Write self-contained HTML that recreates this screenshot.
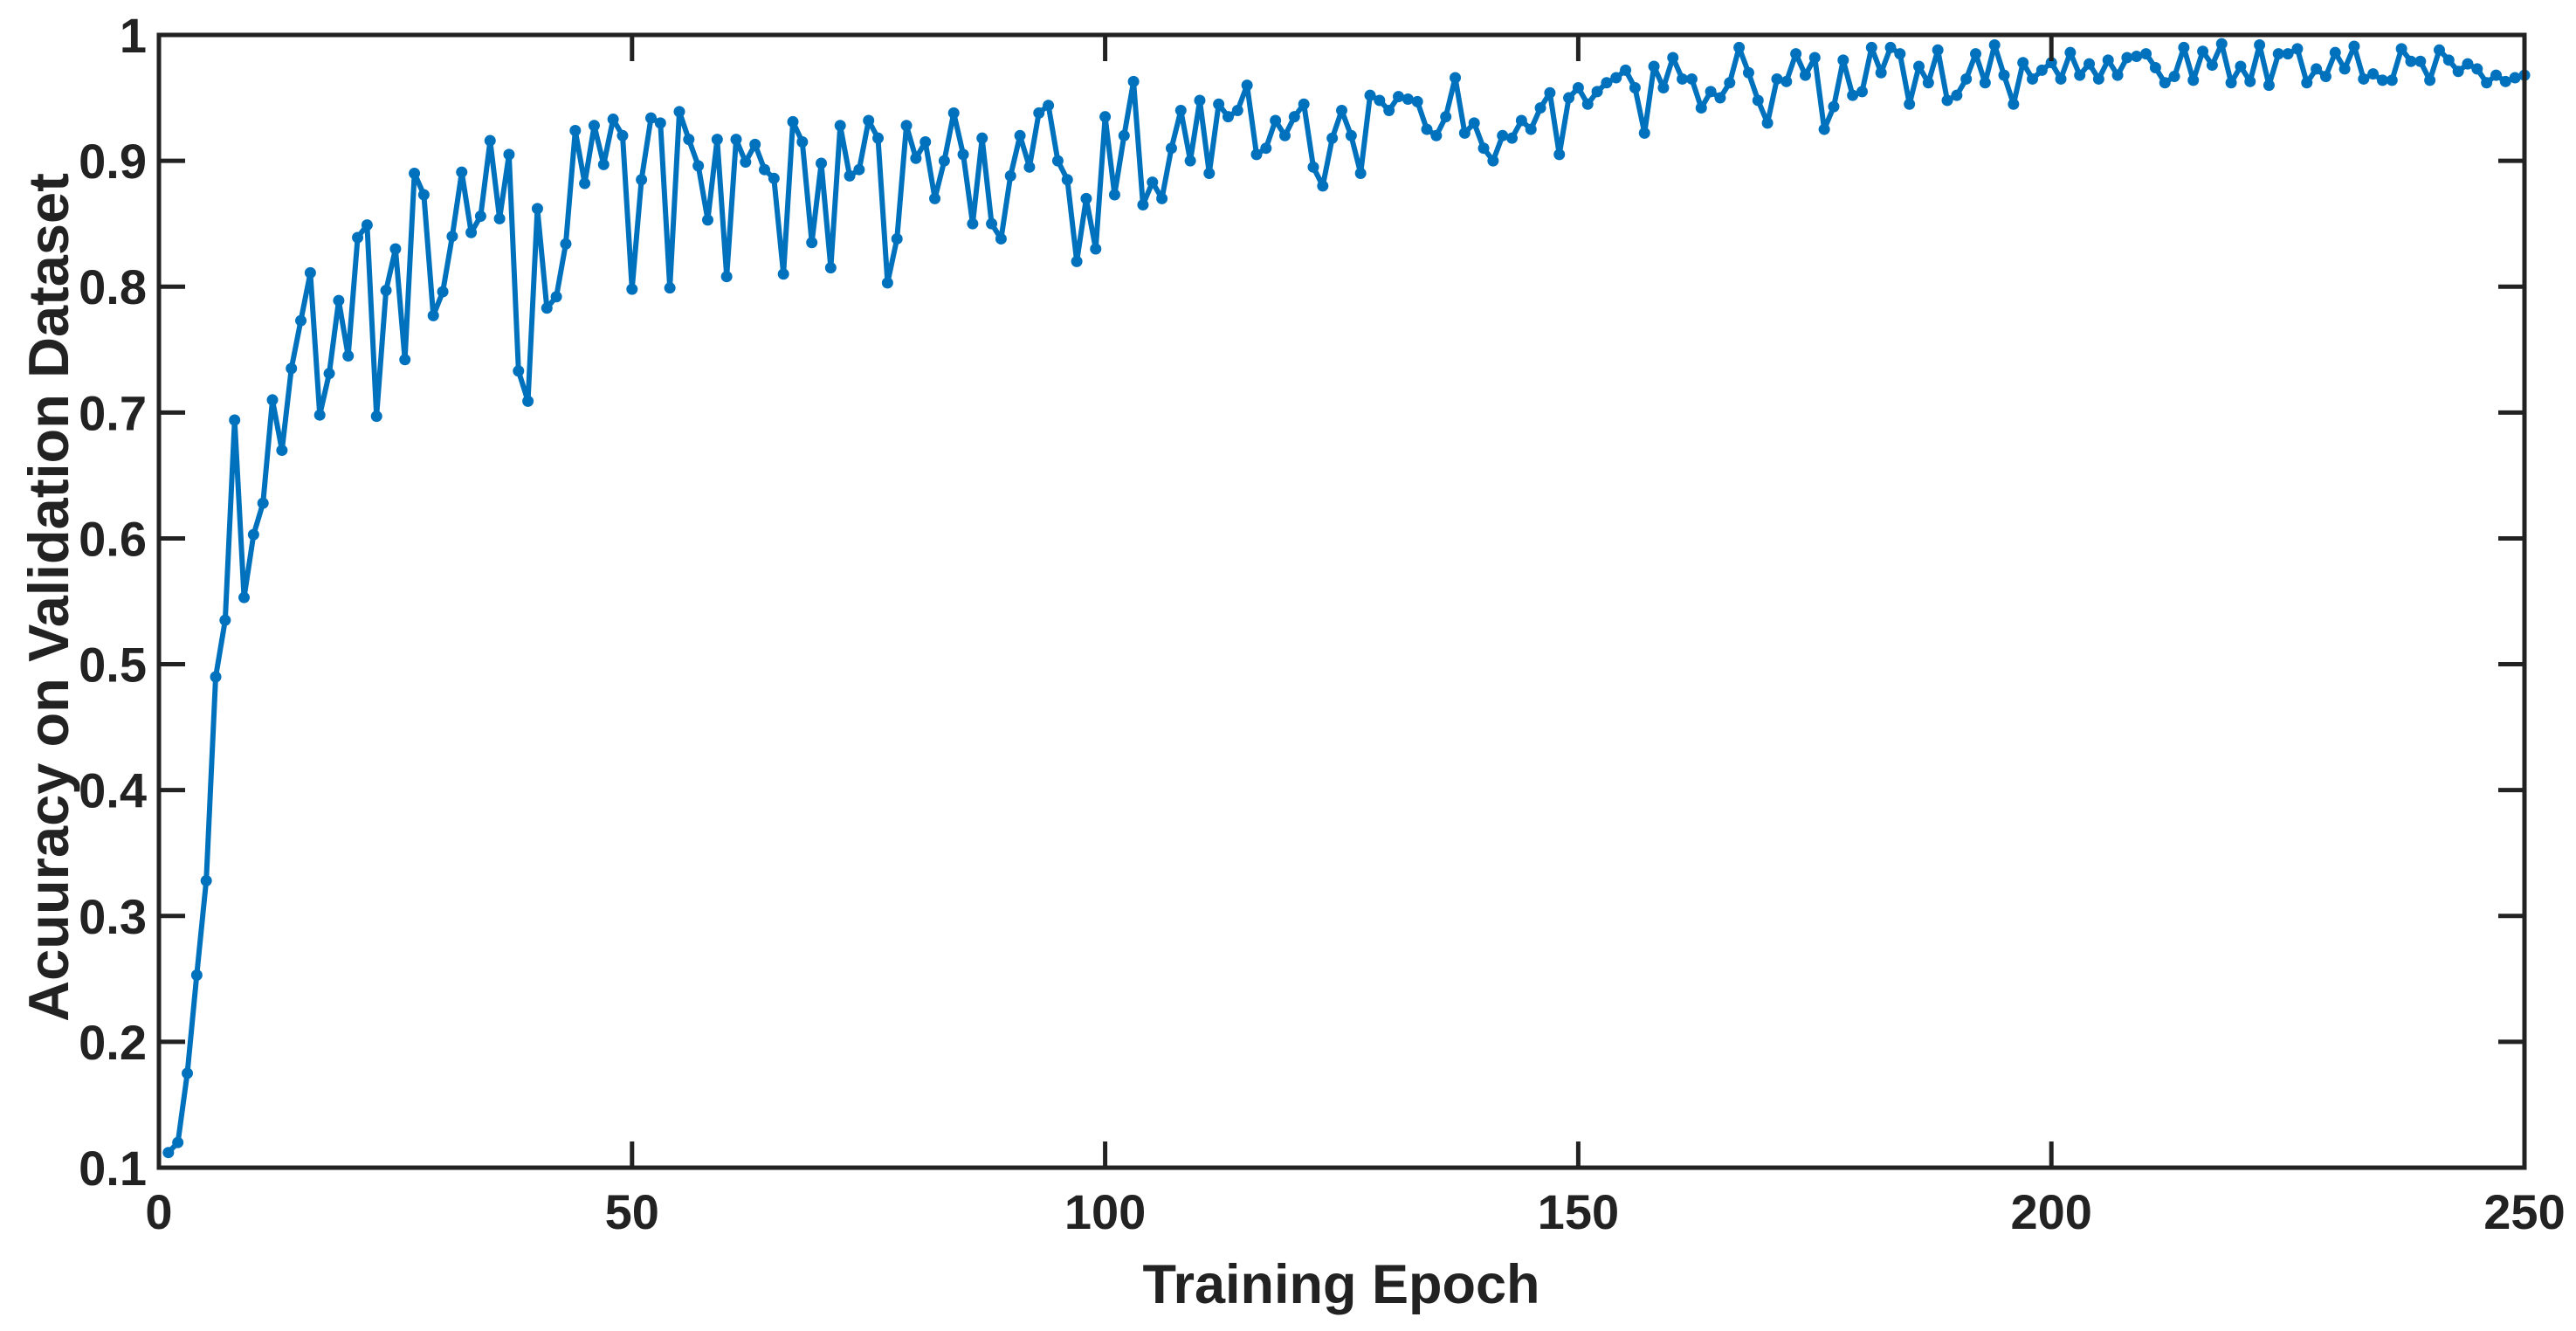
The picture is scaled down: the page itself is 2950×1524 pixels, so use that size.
<!DOCTYPE html>
<html><head><meta charset="utf-8">
<style>
html,body{margin:0;padding:0;background:#fff;}
svg{display:block;font-family:"Liberation Sans",Arial,sans-serif;font-weight:bold;}
</style></head>
<body>
<svg id="chart" width="2950" height="1524" viewBox="0 0 2950 1524" xmlns="http://www.w3.org/2000/svg">
<g id="marks"></g>
<g id="axes"></g>
<text x="1536" y="1492" font-size="63" text-anchor="middle" fill="#222">Training Epoch</text>
<text transform="translate(78,684) rotate(-90)" font-size="65" text-anchor="middle" fill="#222">Acuuracy on Validation Dataset</text>
</svg>
<script>
const accuracy = [0.112,0.12,0.175,0.253,0.328,0.49,0.535,0.694,0.553,0.603,0.628,0.71,0.67,0.735,0.773,0.811,0.698,0.731,0.789,0.745,
0.839,0.849,0.697,0.797,0.83,0.742,0.89,0.873,0.777,0.796,0.84,0.891,0.843,0.856,0.916,0.854,0.905,0.733,0.709,0.862,
0.783,0.792,0.834,0.924,0.882,0.928,0.897,0.933,0.92,0.798,0.885,0.934,0.93,0.799,0.939,0.917,0.896,0.853,0.917,0.808,
0.917,0.899,0.913,0.893,0.886,0.81,0.931,0.915,0.835,0.898,0.815,0.928,0.888,0.893,0.932,0.918,0.803,0.838,0.928,0.902,
0.915,0.87,0.9,0.938,0.905,0.85,0.918,0.85,0.838,0.888,0.92,0.895,0.938,0.944,0.9,0.885,0.82,0.87,0.83,0.935,
0.873,0.92,0.963,0.865,0.883,0.87,0.91,0.94,0.9,0.948,0.89,0.945,0.935,0.94,0.96,0.905,0.91,0.932,0.92,0.935,
0.945,0.895,0.88,0.918,0.94,0.92,0.89,0.952,0.948,0.94,0.951,0.949,0.947,0.925,0.92,0.935,0.966,0.922,0.93,0.91,
0.9,0.92,0.918,0.932,0.925,0.942,0.954,0.905,0.95,0.958,0.945,0.955,0.962,0.966,0.972,0.958,0.922,0.975,0.958,0.982,
0.965,0.965,0.942,0.955,0.95,0.962,0.99,0.97,0.948,0.93,0.965,0.963,0.985,0.968,0.982,0.925,0.943,0.98,0.952,0.955,
0.99,0.97,0.99,0.985,0.945,0.975,0.962,0.988,0.948,0.952,0.965,0.985,0.962,0.992,0.968,0.945,0.978,0.965,0.972,0.978,
0.965,0.986,0.968,0.977,0.965,0.98,0.968,0.982,0.983,0.985,0.974,0.962,0.967,0.99,0.964,0.987,0.976,0.993,0.962,0.975,
0.963,0.992,0.96,0.985,0.985,0.989,0.962,0.973,0.967,0.986,0.973,0.991,0.965,0.969,0.964,0.964,0.989,0.979,0.979,0.964,
0.988,0.98,0.971,0.977,0.973,0.962,0.968,0.963,0.966,0.968];
const xTicks = [0,50,100,150,200,250];
const yTicks = [0.1,0.2,0.3,0.4,0.5,0.6,0.7,0.8,0.9,1];
const yTickLabels = ["0.1","0.2","0.3","0.4","0.5","0.6","0.7","0.8","0.9","1"];

const NS="http://www.w3.org/2000/svg";
const L=182,R=2891,T=40,B=1337;
const xS=v=>L+(v-0)/(250-0)*(R-L);
const yS=v=>B-(v-0.1)/(1-0.1)*(B-T);
function mk(tag,attrs,parent){const e=document.createElementNS(NS,tag);for(const k in attrs)e.setAttribute(k,attrs[k]);parent.appendChild(e);return e;}
const marks=document.getElementById('marks');
const axes=document.getElementById('axes');
let d="";
accuracy.forEach((v,i)=>{d+=(i?"L":"M")+xS(i+1).toFixed(1)+","+yS(v).toFixed(1);});
const line=mk('path',{d:d,fill:'none',stroke:'#0072BD','stroke-width':6,'stroke-linejoin':'round'},marks);


accuracy.forEach((v,i)=>{
  const c=mk('circle',{cx:xS(i+1),cy:yS(v),r:6.5,fill:'#0072BD'},marks);
  
  
});
const box=mk('rect',{x:L,y:T,width:R-L,height:B-T,fill:'none',stroke:'#222','stroke-width':5},axes);


const TL=30;
xTicks.forEach(t=>{
  const x=xS(t);
  const a=mk('line',{x1:x,y1:B,x2:x,y2:B-TL,stroke:'#222','stroke-width':5},axes);
  
  
  const b=mk('line',{x1:x,y1:T,x2:x,y2:T+TL,stroke:'#222','stroke-width':5},axes);
  
  
  const tx=mk('text',{x:x,y:B+70,'font-size':56,'text-anchor':'middle',fill:'#222'},axes);
  tx.textContent=String(t);
  
  
});
yTicks.forEach((t,i)=>{
  const y=yS(t);
  const a=mk('line',{x1:L,y1:y,x2:L+TL,y2:y,stroke:'#222','stroke-width':5},axes);
  
  
  const b=mk('line',{x1:R,y1:y,x2:R-TL,y2:y,stroke:'#222','stroke-width':5},axes);
  
  
  const tx=mk('text',{x:L-14,y:y+20,'font-size':56,'text-anchor':'end',fill:'#222'},axes);
  tx.textContent=yTickLabels[i];
  
  
});
</script>
</body></html>
